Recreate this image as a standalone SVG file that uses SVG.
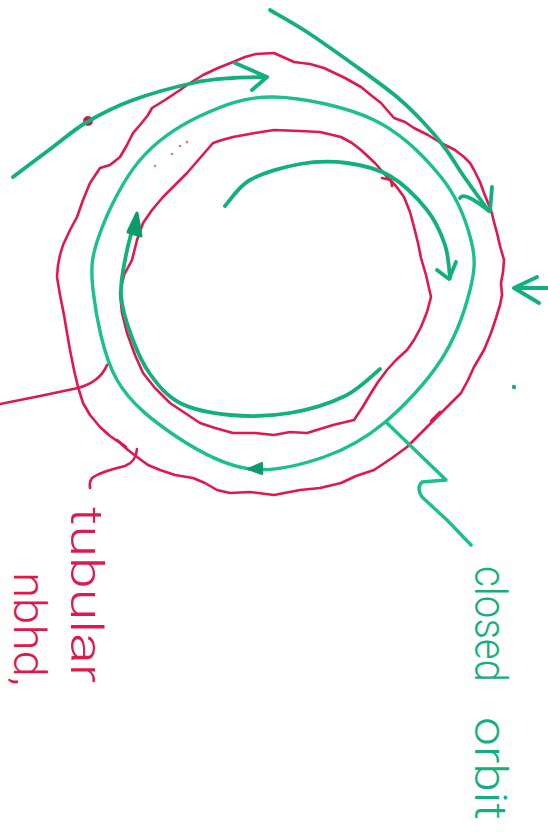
<svg xmlns="http://www.w3.org/2000/svg" width="548" height="832" viewBox="0 0 548 832">
<style>
.red{fill:none;stroke:#e2174b;stroke-width:2.6;stroke-linecap:round;stroke-linejoin:round}
.grn{fill:none;stroke:#12b07f;stroke-width:3.8;stroke-linecap:round;stroke-linejoin:round}
.orb{fill:none;stroke:#1cbf8e;stroke-width:3.4;stroke-linecap:round;stroke-linejoin:round}
.rtxt{fill:#e2174b;font-family:Roboto,"Liberation Sans",Arial,sans-serif;font-weight:300;font-size:44px}
.gtxt{fill:#12b07f;font-family:Roboto,"Liberation Sans",Arial,sans-serif;font-weight:300;font-size:44px}
</style>
<rect width="548" height="832" fill="#ffffff"/>
<g id="tubular-neighbourhood">
<path class="red" d="M256,54 L274,53 L294,62 L310,64 L324,68 L345,78 L361,87 L372,96 L381,103 L394,118 L405,122 L414,128 L428,135 L441,143 L455,150 L464,157 L470,163 L474,170 L480,182 L484,193 L488,203 L491,210 L494,222 L497,233 L500,246 L504,260 L503,272 L501,283 L502,295 L500,305 L496,318 L491,333 L484,350 L474,367 L468,380 L461,393 L450,404 L437,417 L422,432 L407,447 L392,458 L374,470 L356,476 L341,483 L320,488 L300,490 L274,495 L250,492 L230,493 L217,490 L205,483 L193,478 L175,475 L160,470 L148,465 L137,457 L128,450 L120,443 L110,436 L100,427 L90,415 L83,403 L78,387 L74,370 L70,350 L67,333 L64,315 L60,295 L57,277 L58,265 L60,255 L63,245 L70,230 L77,217 L83,200 L90,183 L100,168 L110,165 L120,157 L127,145 L133,133 L140,125 L148,115 L152,108 L165,100 L180,90 L190,83 L203,75 L218,68 L233,62 L245,57 Z"/>
<path class="red" d="M274,130 L300,131 L320,132 L341,137 L352,143 L361,150 L375,163 L387,177 L396,186 L404,197 L410,212 L414,227 L418,243 L421,258 L426,275 L431,297 L427,312 L421,327 L414,340 L407,350 L396,360 L387,370 L378,382 L371,393 L362,408 L354,420 L333,425 L307,433 L290,432 L274,435 L255,433 L233,433 L215,428 L200,423 L185,413 L170,403 L155,388 L143,373 L135,355 L127,333 L122,313 L120,293 L124,275 L132,260 L137,240 L143,223 L152,210 L163,197 L175,185 L187,173 L200,158 L213,143 L222,140 L233,137 L255,133 Z"/>
<path class="red" d="M382,178 L391,180 L392,186"/>
<path class="red" d="M431,421 L440,412" stroke-width="4"/>
<path class="red" d="M117,440 L126,447" stroke="#f07a95"/>
<circle cx="88" cy="121" r="4" fill="#8a2a2a" stroke="#e2174b" stroke-width="2"/>
<g fill="#ef6a88">
<circle cx="155" cy="166" r="1.2"/>
<circle cx="172" cy="154" r="1.3"/>
<circle cx="180" cy="146" r="1.3"/>
<circle cx="187" cy="142" r="1.3"/>
</g>
</g>
<g id="closed-orbit">
<path class="orb" d="M274,97 C303,97.7 346.2,106.7 374,120 C401.8,133.3 424.8,157 441,177 C457.2,197 466.2,221.2 471,240 C475.8,258.8 475,270 470,290 C465,310 455.3,337.8 441,360 C426.7,382.2 403.5,406.8 384,423 C364.5,439.2 346.3,449.3 324,457 C301.7,464.7 274.5,472.3 250,469 C225.5,465.7 199.2,451.8 177,437 C154.8,422.2 131,404.5 117,380 C103,355.5 95.8,314.5 93,290 C90.2,265.5 92.2,254.7 100,233 C107.8,211.3 123.3,179.5 140,160 C156.7,140.5 177.7,126.5 200,116 C222.3,105.5 245,96.3 274,97 Z"/>
<path d="M262,463 L248,469 L262,474 Z" fill="#0e9a6c" stroke="#0e9a6c" stroke-width="2" stroke-linejoin="round"/>
</g>
<g id="connectors">
<path class="grn" d="M13,177 C19.7,172 40.7,156.2 53,147 C65.3,137.8 73.7,129.8 87,122 C100.3,114.2 115.3,106.5 133,100 C150.7,93.5 176.3,86.7 193,83 C209.7,79.3 220.7,79 233,78 C245.3,77 261.3,77.2 267,77"/>
<path class="grn" d="M235,63 L267,77 L252,90" stroke-width="4.5"/>
<path class="grn" d="M270,10 C276.2,13.7 292.5,22.5 307,32 C321.5,41.5 342,56.2 357,67 C372,77.8 385.8,87.7 397,97 C408.2,106.3 416,114.5 424,123 C432,131.5 438.2,138.8 445,148 C451.8,157.2 457.8,167.7 465,178 C472.2,188.3 484.2,204.7 488,210"/>
<path class="grn" d="M460,198 Q464,191 489,211 M492,187 L490,211"/>
<path class="grn" d="M225,206 C229.2,202 237.5,187 250,180 C262.5,173 283.8,166.8 300,164 C316.2,161.2 332,161 347,163 C362,165 376.7,168.2 390,176 C403.3,183.8 417.8,198.5 427,210 C436.2,221.5 441.2,233.7 445,245 C448.8,256.3 449.2,272.5 450,278"/>
<path class="grn" d="M437,270 L449,279 L456,262"/>
<path class="grn" d="M380,369 C374.2,373.5 360,388.7 345,396 C330,403.3 309.2,409.8 290,413 C270.8,416.2 248.3,416.7 230,415 C211.7,413.3 193.3,409.8 180,403 C166.7,396.2 158.2,385.3 150,374 C141.8,362.7 135.8,348.2 131,335 C126.2,321.8 121.8,308.3 121,295 C120.2,281.7 123.7,267.5 126,255 C128.3,242.5 133.5,225.8 135,220"/>
<path d="M128,232 L137,213 L141,236 Z" fill="#0e9a6c" stroke="#0e9a6c" stroke-width="3" stroke-linejoin="round"/>
<path class="grn" d="M514,288 L537,277 M514,288 L539,303 M514,288 L548,288" stroke-width="3.4"/>
<circle cx="514" cy="387" r="2.2" fill="#12b07f"/>
<path class="red" d="M0,404 L40,396 L78,388 Q100,382 107,365"/>
<path class="red" d="M137,449 Q136,462 125,466 Q100,472 92,478 Q89,482 90,488"/>
<path class="orb" d="M387,423 L446,480 L422,482 Q416,488 422,497 L447,520 L471,545"/>
</g>
<g id="labels">
<text class="rtxt" transform="translate(71,507) rotate(90)" textLength="176" lengthAdjust="spacingAndGlyphs">tubular</text>
<text class="rtxt" transform="translate(14,572) rotate(90)" textLength="114" lengthAdjust="spacingAndGlyphs">nbhd,</text>
<text class="gtxt" transform="translate(475,566) rotate(90)" textLength="116" lengthAdjust="spacingAndGlyphs">closed</text>
<text class="gtxt" transform="translate(475,717) rotate(90)" textLength="103" lengthAdjust="spacingAndGlyphs">orbit</text>
</g>
</svg>
